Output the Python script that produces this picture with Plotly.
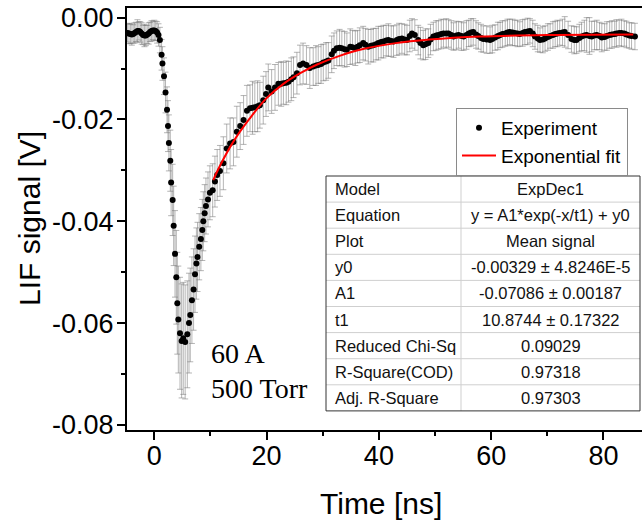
import plotly.graph_objects as go

# ---------------- data ----------------
t_base = [-4.75, -4.5, -4.25, -4.0, -3.75, -3.5, -3.25, -3.0, -2.75, -2.5, -2.25, -2.0,
          -1.75, -1.5, -1.25, -1.0, -0.75, -0.5, -0.25, 0.0, 0.25, 0.5, 0.75, 1.0]
v_base = [-0.0030, -0.0031, -0.0032, -0.0033, -0.0032, -0.0030, -0.0028, -0.0026, -0.0026,
          -0.0028, -0.0031, -0.0034, -0.0035, -0.0035, -0.0033, -0.0031, -0.0028, -0.0026,
          -0.0025, -0.0025, -0.0026, -0.0029, -0.0034, -0.0044]
e_base = [0.0018, 0.0020, 0.0019, 0.0021, 0.0018, 0.0020, 0.0019, 0.0022, 0.0018, 0.0020,
          0.0021, 0.0019, 0.0022, 0.0020, 0.0018, 0.0021, 0.0019, 0.0020, 0.0018, 0.0020,
          0.0019, 0.0021, 0.0022, 0.0025]

t_pulse = [1.3, 1.45, 1.73, 2.0, 2.27, 2.44, 2.6, 2.85, 3.0, 3.27, 3.45, 3.69, 3.92, 4.1,
           4.28, 4.58, 4.87, 5.16, 5.5, 5.88, 6.18, 6.41, 6.7, 7.0, 7.25, 7.5, 7.7, 8.0,
           8.3, 8.55, 8.73, 8.97, 9.2, 9.56, 9.9, 10.4, 10.8, 11.2]
v_pulse = [-0.0073, -0.0090, -0.0115, -0.0147, -0.0181, -0.0213, -0.0246, -0.0281, -0.0324,
           -0.0358, -0.0409, -0.0464, -0.0510, -0.0561, -0.0593, -0.0620, -0.0635, -0.0630,
           -0.0637, -0.0622, -0.0600, -0.0584, -0.0555, -0.0534, -0.0504, -0.0483, -0.0470,
           -0.0450, -0.0435, -0.0417, -0.0400, -0.0384, -0.0370, -0.0357, -0.0344, -0.0339,
           -0.0322, -0.0309]
e_pulse = [0.0030, 0.0033, 0.0036, 0.0040, 0.0045, 0.0050, 0.0055, 0.0060, 0.0065, 0.0070,
           0.0078, 0.0085, 0.0092, 0.0100, 0.0105, 0.0110, 0.0112, 0.0110, 0.0112, 0.0105,
           0.0098, 0.0092, 0.0085, 0.0080, 0.0075, 0.0070, 0.0068, 0.0065, 0.0062, 0.0060,
           0.0058, 0.0056, 0.0055, 0.0054, 0.0053, 0.0052, 0.0050, 0.0050]

t_decay = [11.7, 12.3, 12.9, 13.5, 14.1, 14.7, 15.3, 15.9, 16.5, 17.05, 17.5, 17.9, 18.4, 18.8,
           19.4, 19.9, 20.3, 20.9, 21.5, 22.1, 22.6, 23.0, 23.5, 23.9, 24.4, 24.8, 25.4, 25.95,
           26.5, 27.1, 27.7, 28.3, 28.8, 29.2, 29.7, 30.1, 30.6, 31.0, 31.6, 32.0, 32.5, 33.0,
           33.4, 33.9, 34.3, 34.9, 35.3, 35.8, 36.2, 36.6, 37.2, 37.6, 38.1, 38.6, 39.0, 39.5,
           39.9, 40.4, 40.8, 41.3, 41.7, 42.2, 42.6, 43.2, 43.6, 44.1, 44.6, 45.0, 45.5, 45.9,
           46.4, 47.0, 47.4, 47.9, 48.3, 48.8, 49.2, 49.7, 50.2, 50.6, 51.1, 51.5, 52.0, 52.4,
           52.9, 53.3, 53.8, 54.2, 54.7, 55.1, 55.6, 56.0, 56.4, 56.8, 57.3, 57.7, 58.2, 58.6,
           59.2, 59.8, 60.2, 60.7, 61.2, 61.6, 62.0, 62.5, 62.9, 63.3, 63.8, 64.2, 64.7, 65.1,
           65.6, 66.0, 66.5, 66.9, 67.4, 67.8, 68.3, 68.7, 69.2, 69.6, 70.1, 70.5, 71.0, 71.4,
           71.8, 72.2, 72.7, 73.1, 73.7, 74.3, 74.8, 75.2, 75.7, 76.1, 76.6, 77.0, 77.5, 77.9,
           78.4, 78.8, 79.3, 79.7, 80.2, 80.6, 81.1, 81.5, 82.0, 82.3, 82.8, 83.2, 83.7, 84.1,
           84.6, 85.0, 85.6]
v_decay = [-0.0301, -0.0286, -0.0257, -0.0247, -0.0244, -0.0224, -0.0213, -0.0201, -0.0183,
           -0.0178, -0.0177, -0.0176, -0.0174, -0.0172, -0.0162, -0.0150, -0.0137, -0.0145,
           -0.0137, -0.0130, -0.0130, -0.0129, -0.0128, -0.0126, -0.0121, -0.0117, -0.0109,
           -0.0093, -0.0090, -0.0093, -0.0099, -0.0096, -0.0094, -0.0093, -0.0091, -0.0088,
           -0.0086, -0.0084, -0.0072, -0.0065, -0.0060, -0.0059, -0.0060, -0.0062, -0.0063,
           -0.0057, -0.0058, -0.0060, -0.0057, -0.0054, -0.0050, -0.0053, -0.0057, -0.0055,
           -0.0054, -0.0052, -0.0050, -0.0048, -0.0047, -0.0045, -0.0044, -0.0046, -0.0047,
           -0.0044, -0.0042, -0.0041, -0.0043, -0.0044, -0.0036, -0.0031, -0.0034, -0.0044,
           -0.0050, -0.0054, -0.0052, -0.0050, -0.0043, -0.0037, -0.0035, -0.0034, -0.0032,
           -0.0031, -0.0031, -0.0031, -0.0034, -0.0037, -0.0035, -0.0034, -0.0036, -0.0037,
           -0.0034, -0.0031, -0.0029, -0.0028, -0.0033, -0.0036, -0.0040, -0.0042, -0.0043,
           -0.0044, -0.0042, -0.0039, -0.0036, -0.0034, -0.0032, -0.0031, -0.0029, -0.0028,
           -0.0029, -0.0030, -0.0031, -0.0032, -0.0030, -0.0028, -0.0027, -0.0026, -0.0031,
           -0.0037, -0.0041, -0.0044, -0.0043, -0.0041, -0.0038, -0.0036, -0.0034, -0.0032,
           -0.0031, -0.0030, -0.0029, -0.0028, -0.0034, -0.0042, -0.0044, -0.0044, -0.0040,
           -0.0037, -0.0035, -0.0034, -0.0036, -0.0037, -0.0035, -0.0034, -0.0036, -0.0039,
           -0.0038, -0.0036, -0.0034, -0.0033, -0.0032, -0.0031, -0.0030, -0.0030, -0.0031,
           -0.0033, -0.0035, -0.0036, -0.0037]
e_decay = [0.0050, 0.0052, 0.0048, 0.0050, 0.0047, 0.0050, 0.0046, 0.0048, 0.0050, 0.0046,
           0.0052, 0.0048, 0.0050, 0.0045, 0.0047, 0.0044, 0.0046, 0.0043, 0.0045, 0.0042,
           0.0044, 0.0041, 0.0043, 0.0040, 0.0042, 0.0040, 0.0041, 0.0039, 0.0040, 0.0038,
           0.0040, 0.0037, 0.0039, 0.0036, 0.0038, 0.0036, 0.0037, 0.0035, 0.0036, 0.0035,
           0.0034, 0.0036, 0.0034, 0.0035, 0.0033, 0.0035, 0.0033, 0.0034, 0.0032, 0.0034,
           0.0033, 0.0032, 0.0034, 0.0032, 0.0033, 0.0031, 0.0033, 0.0031, 0.0032, 0.0030,
           0.0032, 0.0030, 0.0031, 0.0030, 0.0031, 0.0029, 0.0030, 0.0029, 0.0031, 0.0029,
           0.0030, 0.0029, 0.0031, 0.0029, 0.0030, 0.0028, 0.0030, 0.0028, 0.0029, 0.0028,
           0.0029, 0.0027, 0.0029, 0.0027, 0.0028, 0.0027, 0.0028, 0.0026, 0.0028, 0.0027,
           0.0028, 0.0026, 0.0027, 0.0026, 0.0027, 0.0026, 0.0027, 0.0026, 0.0027, 0.0026,
           0.0027, 0.0025, 0.0027, 0.0025, 0.0026, 0.0025, 0.0026, 0.0025, 0.0026, 0.0025,
           0.0026, 0.0024, 0.0026, 0.0025, 0.0026, 0.0024, 0.0026, 0.0025, 0.0026, 0.0024,
           0.0026, 0.0025, 0.0026, 0.0024, 0.0026, 0.0025, 0.0026, 0.0024, 0.0026, 0.0030,
           0.0027, 0.0026, 0.0027, 0.0026, 0.0027, 0.0028, 0.0030, 0.0034, 0.0036, 0.0030,
           0.0028, 0.0029, 0.0027, 0.0028, 0.0026, 0.0028, 0.0026, 0.0027, 0.0025, 0.0027,
           0.0025, 0.0027, 0.0025, 0.0026, 0.0025, 0.0026, 0.0026]

# exponential fit curve
fit_t = [10.5, 11.7, 14.0, 17.0, 20.0, 23.0, 26.0, 29.0, 33.0, 37.0, 43.0, 49.0, 58.0, 70.0, 85.3]
fit_v = [-0.0319, -0.0291, -0.0245, -0.0198, -0.0158, -0.0130, -0.0109, -0.0092, -0.0075,
         -0.0062, -0.0050, -0.0043, -0.0037, -0.0034, -0.0033]

x_ticks = [0, 20, 40, 60, 80]
x_minor = [10, 30, 50, 70]
y_ticks = [0.0, -0.02, -0.04, -0.06, -0.08]
y_ticklabels = ["0.00", "-0.02", "-0.04", "-0.06", "-0.08"]
y_minor = [-0.01, -0.03, -0.05, -0.07]

table_labels = ["Model", "Equation", "Plot", "y0", "A1", "t1",
                "Reduced Chi-Sq", "R-Square(COD)", "Adj. R-Square"]
table_values = ["ExpDec1", "y = A1*exp(-x/t1) + y0", "Mean signal",
                "-0.00329 ± 4.8246E-5", "-0.07086 ± 0.00187", "10.8744 ± 0.17322",
                "0.09029", "0.97318", "0.97303"]

# ---------------- layout geometry (pixels) ----------------
W, H = 642, 524
L, R, T, B = 127, 642, 8, 430
PW, PH = R - L, B - T


def px(xp):
    return (xp - L) / PW


def py(yp):
    return (B - yp) / PH


SANS = "Liberation Sans, Arial, sans-serif"
SERIF = "Liberation Serif, Times New Roman, serif"

t_exp = t_base + t_pulse + t_decay
v_exp = v_base + v_pulse + v_decay
e_exp = e_base + e_pulse + e_decay

fig = go.Figure()
fig.add_trace(go.Scatter(
    x=t_exp, y=v_exp, mode="markers", name="Experiment",
    marker=dict(color="black", size=6),
    error_y=dict(type="data", array=e_exp, visible=True,
                 color="rgba(120,120,120,0.55)", thickness=1, width=3),
))
fig.add_trace(go.Scatter(
    x=fit_t, y=fit_v, mode="lines", name="Exponential fit",
    line=dict(color="red", width=2, shape="spline", smoothing=1.0),
))

axis_common = dict(showgrid=False, zeroline=False, showline=True, linecolor="black",
                   linewidth=2, ticks="outside", ticklen=8, tickwidth=2, tickcolor="black",
                   tickfont=dict(family=SANS, size=27, color="black"))

fig.update_xaxes(range=[-4.86, 86.86], tickmode="array", tickvals=x_ticks,
                 ticktext=[str(v) for v in x_ticks], mirror=True, ticklabelstandoff=-7,
                 minor=dict(tickvals=x_minor, ticks="outside", ticklen=4, tickwidth=2,
                            tickcolor="black"),
                 **axis_common)
fig.update_yaxes(range=[-0.0810, 0.0019], tickmode="array", tickvals=y_ticks,
                 ticktext=y_ticklabels, mirror=False, ticklabelstandoff=-2,
                 minor=dict(tickvals=y_minor, ticks="outside", ticklen=4, tickwidth=2,
                            tickcolor="black"),
                 **axis_common)

annotations = [
    dict(text="LIF signal [V]", x=px(29), y=py(219), xref="paper", yref="paper",
         textangle=-90, showarrow=False, xanchor="center", yanchor="middle",
         font=dict(family=SANS, size=30, color="black")),
    dict(text="Time [ns]", x=px(381), y=py(504), xref="paper", yref="paper",
         showarrow=False, xanchor="center", yanchor="middle",
         font=dict(family=SANS, size=30, color="black")),
    dict(text="60 A", x=px(209), y=py(353), xref="paper", yref="paper",
         showarrow=False, xanchor="left", yanchor="middle",
         font=dict(family=SERIF, size=28, color="black")),
    dict(text="500 Torr", x=px(209), y=py(388), xref="paper", yref="paper",
         showarrow=False, xanchor="left", yanchor="middle",
         font=dict(family=SERIF, size=28, color="black")),
]

# table drawn with shapes + text
tx0, tx_mid, tx1 = 326, 461, 640
ty0, row_h = 176, 26.1
n_rows = len(table_labels)
shapes = [dict(type="rect", xref="paper", yref="paper", x0=px(tx0), x1=px(tx1),
               y0=py(ty0), y1=py(ty0 + n_rows * row_h), fillcolor="white",
               line=dict(width=0), layer="above")]
for i in range(1, n_rows):
    yy = ty0 + i * row_h
    shapes.append(dict(type="line", xref="paper", yref="paper", x0=px(tx0), x1=px(tx1),
                       y0=py(yy), y1=py(yy), line=dict(color="#cfcfcf", width=1),
                       layer="above"))
shapes.append(dict(type="line", xref="paper", yref="paper", x0=px(tx_mid), x1=px(tx_mid),
                   y0=py(ty0), y1=py(ty0 + n_rows * row_h),
                   line=dict(color="#cfcfcf", width=1), layer="above"))
shapes.append(dict(type="rect", xref="paper", yref="paper", x0=px(tx0), x1=px(tx1),
                   y0=py(ty0), y1=py(ty0 + n_rows * row_h),
                   line=dict(color="#333333", width=1), layer="above"))

for i, (lab, val) in enumerate(zip(table_labels, table_values)):
    yc = ty0 + (i + 0.5) * row_h
    annotations.append(dict(text=lab, x=px(tx0 + 7), y=py(yc), xref="paper", yref="paper",
                            showarrow=False, xanchor="left", yanchor="middle",
                            font=dict(family=SANS, size=16.5, color="#111111")))
    annotations.append(dict(text=val, x=px((tx_mid + tx1) / 2), y=py(yc), xref="paper",
                            yref="paper", showarrow=False, xanchor="center",
                            yanchor="middle",
                            font=dict(family=SANS, size=16.5, color="#111111")))

fig.update_layout(
    width=W, height=H, autosize=False,
    margin=dict(l=L, r=W - R, t=T, b=H - B, pad=0),
    paper_bgcolor="white", plot_bgcolor="white",
    showlegend=True,
    legend=dict(x=px(456), y=py(108), xanchor="left", yanchor="top",
                bgcolor="white", bordercolor="#8a8a8a", borderwidth=1,
                font=dict(family=SANS, size=19, color="black"), itemwidth=34,
                tracegroupgap=0),
    annotations=annotations,
    shapes=shapes,
)

fig.write_html(
    "out.html",
    config={"displayModeBar": False},
    post_script="document.body.style.margin='0';document.body.style.padding='0';",
)
